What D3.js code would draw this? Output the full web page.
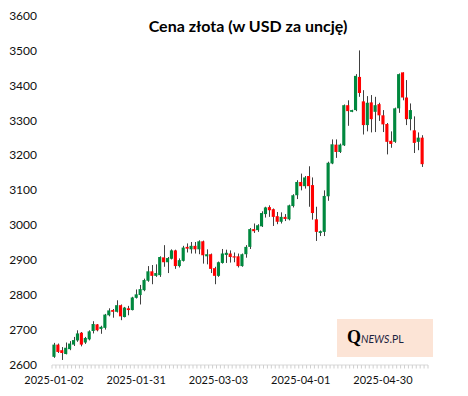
<!DOCTYPE html>
<html>
<head>
<meta charset="utf-8">
<script src="https://cdn.jsdelivr.net/npm/d3@7"></script>
<style>
    body { margin: 0; background: #fff; }
    svg { display: block; font-family: Lato, "Open Sans", sans-serif; }
</style>
</head>
<body>
<div id="chart"></div>
<script>
// trading days (last slot is empty in the source sheet)
const dates = [
    "2025-01-02","2025-01-03","2025-01-06","2025-01-07","2025-01-08","2025-01-09","2025-01-10",
    "2025-01-13","2025-01-14","2025-01-15","2025-01-16","2025-01-17","2025-01-20","2025-01-21",
    "2025-01-22","2025-01-23","2025-01-24","2025-01-27","2025-01-28","2025-01-29","2025-01-30",
    "2025-01-31","2025-02-03","2025-02-04","2025-02-05","2025-02-06","2025-02-07","2025-02-10",
    "2025-02-11","2025-02-12","2025-02-13","2025-02-14","2025-02-17","2025-02-18","2025-02-19",
    "2025-02-20","2025-02-21","2025-02-24","2025-02-25","2025-02-26","2025-02-27","2025-02-28",
    "2025-03-03","2025-03-04","2025-03-05","2025-03-06","2025-03-07","2025-03-10","2025-03-11",
    "2025-03-12","2025-03-13","2025-03-14","2025-03-17","2025-03-18","2025-03-19","2025-03-20",
    "2025-03-21","2025-03-24","2025-03-25","2025-03-26","2025-03-27","2025-03-28","2025-03-31",
    "2025-04-01","2025-04-02","2025-04-03","2025-04-04","2025-04-07","2025-04-08","2025-04-09",
    "2025-04-10","2025-04-11","2025-04-14","2025-04-15","2025-04-16","2025-04-17","2025-04-18",
    "2025-04-21","2025-04-22","2025-04-23","2025-04-24","2025-04-25","2025-04-28","2025-04-29",
    "2025-04-30","2025-05-01","2025-05-02","2025-05-05","2025-05-06","2025-05-07","2025-05-08",
    "2025-05-09","2025-05-12","2025-05-13","2025-05-14","2025-05-15"
];

const openVals = [
    2622,2657,2641,2630,2644,2657,2669,2691,2663,2672,2696,2715,2702,2705,2741,2756,2751,2770,2736,2761,
    2756,2791,2799,2813,2840,2867,2854,2856,2907,2893,2903,2927,2882,2897,2937,2930,2940,2930,2953,2910,
    2916,2876,2854,2891,2914,2918,2910,2910,2882,2916,2937,2988,2985,2996,3031,3051,3045,3025,3009,3023,
    3016,3054,3085,3123,3111,3140,3114,3016,2977,2980,3082,3176,3230,3209,3228,3343,3324,3329,3424,3354,
    3286,3351,3324,3346,3314,3289,3241,3238,3334,3437,3365,3303,3271,3238,3250
];
const highVals = [
    2662,2660,2650,2663,2667,2679,2698,2693,2679,2698,2724,2716,2711,2745,2761,2759,2784,2772,2765,2768,
    2794,2815,2828,2846,2882,2885,2887,2910,2942,2908,2930,2929,2904,2940,2947,2951,2951,2956,2955,2930,
    2918,2880,2895,2931,2929,2927,2921,2918,2918,2942,2991,3004,3002,3039,3052,3056,3047,3037,3036,3031,
    3058,3088,3128,3147,3140,3168,3136,3052,2984,3099,3181,3245,3245,3233,3345,3357,3330,3432,3500,3386,
    3369,3372,3367,3350,3329,3292,3268,3336,3434,3437,3415,3348,3311,3265,3257
];
const lowVals = [
    2619,2633,2613,2629,2641,2653,2665,2652,2659,2669,2689,2695,2688,2700,2738,2734,2749,2727,2735,2741,
    2755,2789,2772,2810,2837,2830,2851,2851,2880,2862,2901,2874,2878,2895,2921,2918,2918,2916,2889,2887,
    2862,2830,2851,2889,2891,2892,2893,2878,2880,2906,2931,2977,2980,2994,3021,3023,2997,3002,3004,3011,
    3013,3050,3074,3099,3104,3052,3015,2954,2968,2968,3069,3174,3192,3206,3226,3284,3323,3326,3367,3259,
    3268,3265,3266,3298,3266,3202,3221,3235,3321,3357,3286,3271,3206,3214,3166
];
const closeVals = [
    2657,2636,2633,2648,2660,2670,2689,2657,2676,2695,2716,2698,2708,2743,2755,2751,2770,2738,2763,2756,
    2792,2801,2816,2842,2867,2854,2862,2908,2893,2905,2927,2882,2899,2935,2932,2940,2930,2953,2913,2916,
    2874,2854,2893,2918,2920,2908,2907,2882,2916,2937,2988,2982,2999,3034,3050,3042,3023,3009,3023,3017,
    3056,3085,3123,3111,3136,3111,3034,2980,2982,3083,3178,3231,3209,3230,3343,3326,3329,3427,3378,3286,
    3350,3303,3343,3314,3288,3238,3232,3334,3432,3365,3303,3329,3235,3250,3174
];

const yTicks = [2600, 2700, 2800, 2900, 3000, 3100, 3200, 3300, 3400, 3500, 3600];
const xLabels = ["2025-01-02", "2025-01-31", "2025-03-03", "2025-04-01", "2025-04-30"];

const title = "Cena złota (w USD za uncję)";

class CandleChart {
    constructor(parentElement) {
        this.parentElement = parentElement;
        this.initVis();
    }

    initVis() {
        const vis = this;

        vis.width = 468;
        vis.height = 396;
        vis.plot = { left: 52, right: 428, top: 15.5, bottom: 364.5 };

        vis.svg = d3.select(`#${vis.parentElement}`)
            .append("svg")
            .attr("width", vis.width)
            .attr("height", vis.height);

        // Scales
        vis.x = d3.scaleBand()
            .domain(dates)
            .range([vis.plot.left, vis.plot.right])
            .paddingInner(0.2)
            .paddingOuter(0.1);

        vis.y = d3.scaleLinear()
            .domain([2600, 3600])
            .range([vis.plot.bottom, vis.plot.top]);

        vis.wrangleData();
    }

    wrangleData() {
        const vis = this;
        // one object per candle
        vis.candles = openVals.map((o, i) => ({
            date: dates[i],
            open: o,
            high: highVals[i],
            low: lowVals[i],
            close: closeVals[i]
        }));
        vis.updateVis();
    }

    updateVis() {
        const vis = this;
        const step = vis.x.step();
        const bw = vis.x.bandwidth();
        const cx = d => vis.x(d) + bw / 2;

        // Title
        vis.svg.append("text")
            .attr("x", 248)
            .attr("y", 32)
            .attr("text-anchor", "middle")
            .attr("font-size", 16)
            .attr("font-weight", "bold")
            .attr("fill", "#000")
            .text(title);

        // Y axis (labels only)
        const yAxis = vis.svg.append("g")
            .attr("transform", "translate(37,0)")
            .call(d3.axisLeft(vis.y).tickValues(yTicks).tickFormat(d3.format("d")).tickSize(0).tickPadding(0));
        yAxis.select(".domain").remove();
        yAxis.selectAll("text")
            .attr("font-family", "Lato, sans-serif")
            .attr("font-size", 12)
            .attr("fill", "#111");

        // X axis line + a minor tick at every category boundary
        const axisY = vis.y(2600) + 0.5;
        vis.svg.append("line")
            .attr("x1", vis.plot.left).attr("x2", vis.plot.right)
            .attr("y1", axisY).attr("y2", axisY)
            .attr("stroke", "#d9d9d9");

        vis.svg.append("g")
            .selectAll("line")
            .data(d3.range(dates.length + 1))
            .join("line")
            .attr("x1", i => vis.plot.left + i * step)
            .attr("x2", i => vis.plot.left + i * step)
            .attr("y1", axisY)
            .attr("y2", axisY + 3.5)
            .attr("stroke", "#cfcfcf");

        const xAxis = vis.svg.append("g")
            .attr("transform", `translate(0,${axisY})`)
            .call(d3.axisBottom(vis.x).tickValues(xLabels).tickSize(0).tickPadding(11));
        xAxis.select(".domain").remove();
        xAxis.selectAll("text")
            .attr("font-family", "Lato, sans-serif")
            .attr("font-size", 11)
            .attr("fill", "#111");

        // High-low lines
        vis.svg.append("g")
            .selectAll("line")
            .data(vis.candles)
            .join("line")
            .attr("x1", d => Math.round(cx(d.date)) + 0.5)
            .attr("x2", d => Math.round(cx(d.date)) + 0.5)
            .attr("y1", d => vis.y(d.high))
            .attr("y2", d => vis.y(d.low))
            .attr("stroke", "#404040")
            .attr("stroke-width", 1);

        // Up / down bars
        vis.svg.append("g")
            .selectAll("rect")
            .data(vis.candles)
            .join("rect")
            .attr("x", d => vis.x(d.date))
            .attr("width", bw)
            .attr("y", d => vis.y(Math.max(d.open, d.close)))
            .attr("height", d => Math.max(1.2, Math.abs(vis.y(d.open) - vis.y(d.close))))
            .attr("fill", d => d.close >= d.open ? "#00883e" : "#ff0000");

        // QNEWS.PL badge
        const badge = vis.svg.append("g");
        badge.append("rect")
            .attr("x", 337).attr("y", 319)
            .attr("width", 96).attr("height", 38)
            .attr("fill", "#fce4d6");
        const logo = badge.append("text")
            .attr("x", 347)
            .attr("y", 343);
        logo.append("tspan")
            .attr("font-family", "Liberation Serif, serif")
            .attr("font-weight", "bold")
            .attr("font-size", 18)
            .attr("fill", "#000")
            .text("Q");
        logo.append("tspan")
            .attr("font-style", "italic")
            .attr("font-size", 10.5)
            .attr("fill", "#1b2340")
            .text("NEWS");
        logo.append("tspan")
            .attr("font-size", 10.5)
            .attr("fill", "#1b2340")
            .text(".PL");
    }
}

new CandleChart("chart");
</script>
</body>
</html>
